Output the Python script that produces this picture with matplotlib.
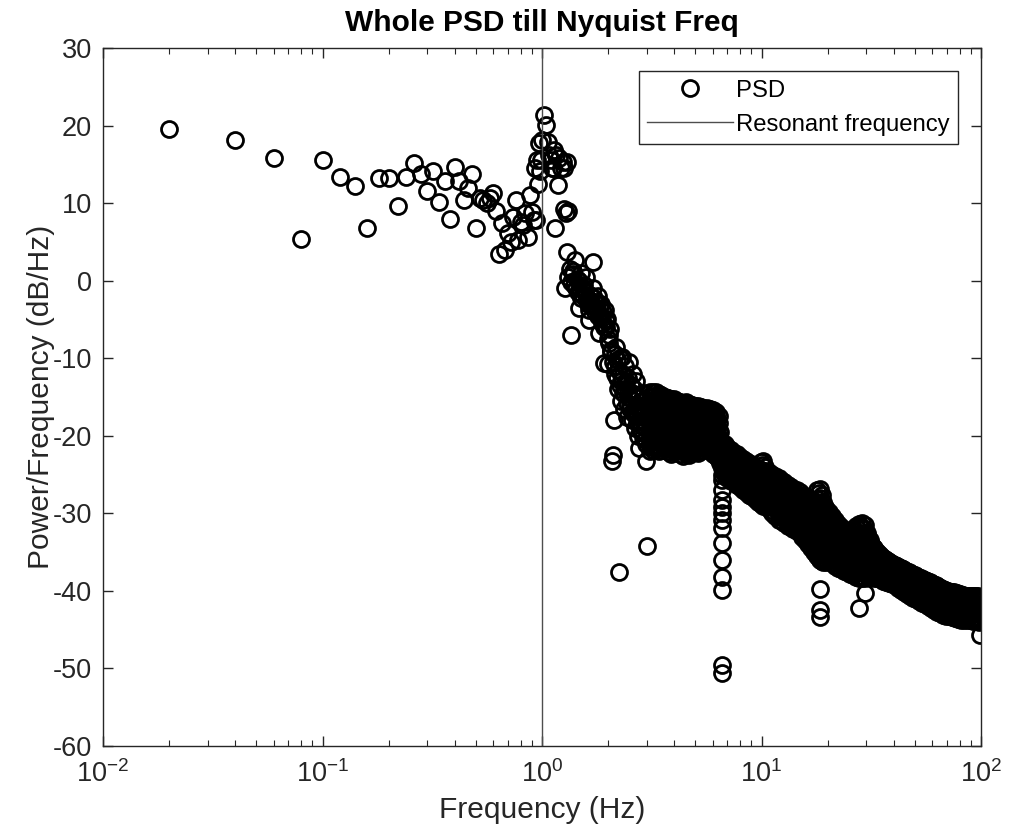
import matplotlib
matplotlib.use('Agg')
import matplotlib.pyplot as plt
import numpy as np

# ---------------- data ----------------
low_freq = [0.02, 0.04, 0.06, 0.08, 0.10, 0.12, 0.14, 0.16, 0.18, 0.20, 0.22, 0.24,
            0.26, 0.28, 0.30, 0.32, 0.34, 0.36, 0.38, 0.40, 0.42, 0.44, 0.46, 0.48,
            0.50, 0.52, 0.54, 0.56, 0.58, 0.60, 0.62, 0.64, 0.66, 0.68, 0.70, 0.72,
            0.74, 0.76, 0.78, 0.80, 0.82, 0.84, 0.86, 0.88, 0.90, 0.92, 0.94, 0.96, 0.98]
low_psd = [19.5, 18.2, 15.8, 5.4, 15.5, 13.4, 12.2, 6.8, 13.2, 13.2, 9.6, 13.4,
           15.2, 13.8, 11.6, 14.2, 10.2, 12.8, 7.9, 14.7, 12.8, 10.4, 12.0, 13.8,
           6.8, 10.6, 10.4, 10.0, 10.6, 11.3, 9.0, 3.5, 7.4, 4.0, 6.1, 5.0,
           8.2, 10.4, 5.2, 7.6, 7.2, 8.7, 5.6, 11.0, 8.9, 7.8, 7.8, 12.5, 14.1]

peak_freq = [0.93, 0.95, 0.97, 0.99, 1.00, 1.02, 1.04, 1.06, 1.08, 1.10, 1.11, 1.12,
             1.14, 1.15, 1.16, 1.18, 1.20, 1.22, 1.24, 1.26, 1.26, 1.27, 1.28, 1.30]
peak_psd = [14.5, 15.6, 17.7, 15.6, 18.1, 21.4, 20.1, 17.9, 16.2, 15.6, 14.5, 14.5,
            16.8, 6.8, 16.2, 12.3, 15.8, 14.5, 15.3, 9.3, 14.5, -1.0, 8.7, 15.3]

mid_freq = [1.30, 1.32, 1.34, 1.36, 1.38, 1.40, 1.42, 1.44, 1.46, 1.48, 1.50, 1.52,
            1.54, 1.56, 1.58, 1.60, 1.62, 1.64, 1.66, 1.68, 1.70, 1.72, 1.74, 1.76,
            1.78, 1.80, 1.82, 1.84, 1.86, 1.88, 1.90, 1.92, 1.94, 1.96, 1.98, 2.00,
            2.02, 2.04, 2.06, 2.08, 2.10, 2.12, 2.14, 2.16, 2.18, 2.20, 2.22, 2.24,
            2.26, 2.28, 2.30, 2.32, 2.34, 2.36, 2.38, 2.40, 2.42, 2.44, 2.46, 2.48,
            2.50, 2.52, 2.54, 2.56, 2.58, 2.60, 2.62, 2.64, 2.66, 2.68, 2.70, 2.72,
            2.74, 2.76, 2.78, 2.80, 2.82, 2.84, 2.86, 2.88, 2.90, 2.92, 2.94, 2.96,
            2.98, 3.00]
mid_psd = [3.7, 9.0, 1.5, -7.0, 0.8, -0.5, 2.7, 0.2, -1.5, -3.5, 1.0, -0.8,
           -2.0, -1.2, 0.5, -2.5, -3.0, -5.1, -1.8, -3.2, 2.4, -2.2, -4.0, -2.8,
           -3.6, -2.0, -6.8, -4.5, -3.0, -5.5, -4.0, -10.6, -3.8, -6.0, -5.0, -10.7,
           -7.0, -6.2, -9.0, -23.3, -22.5, -18.0, -9.5, -11.0, -8.5, -12.5, -14.0, -37.5,
           -10.0, -13.0, -15.5, -9.8, -12.0, -16.5, -11.0, -14.0, -13.0, -17.6, -12.5, -15.0,
           -10.5, -16.0, -13.5, -18.0, -14.5, -12.0, -16.8, -19.0, -15.0, -13.0, -17.5, -14.8,
           -20.0, -21.6, -16.0, -18.5, -15.5, -17.0, -19.5, -16.5, -18.0, -14.5, -20.5, -17.2,
           -23.3, -34.2]

mid2_freq = [1.31, 1.35, 1.39, 1.43, 1.47, 1.51, 1.55, 1.59, 1.63, 1.67, 1.71, 1.75,
             1.79, 1.83, 1.87, 1.91, 1.95, 1.99, 2.03, 2.07, 2.11, 2.15, 2.19, 2.23,
             2.27, 2.31, 2.35, 2.39, 2.43, 2.47, 2.51, 2.55, 2.59, 2.63, 2.67, 2.71,
             2.75, 2.79, 2.83, 2.87, 2.91, 2.95, 2.99]
mid2_psd = [0.5, -0.2, 1.2, -1.0, 0.0, -2.2, -0.5, -1.8, -3.8, -2.6, -1.0, -3.4,
            -4.6, -3.2, -4.8, -6.0, -5.2, -7.5, -8.0, -9.2, -10.5, -12.0, -10.2, -11.5,
            -13.5, -12.8, -14.5, -13.2, -15.8, -14.2, -16.5, -15.2, -17.0, -14.0, -16.2, -18.2,
            -16.6, -19.2, -17.5, -20.2, -16.8, -19.0, -21.0]

# dense band above 3 Hz: frequency of each column and the levels read in it
band_freq = [3.10, 3.20, 3.30, 3.40, 3.50, 3.62, 3.74, 3.86, 3.98, 4.12, 4.24, 4.38,
             4.52, 4.66, 4.82, 4.96, 5.12, 5.28, 5.44, 5.62, 5.80, 6.00, 6.18, 6.38,
             6.58, 6.80, 7.00, 7.24, 7.46, 7.70, 7.94, 8.20, 8.46, 8.74, 9.00, 9.30,
             9.60, 9.90, 10.20, 10.54, 10.88, 11.22, 11.58, 11.96, 12.34, 12.72, 13.14, 13.56,
             13.98, 14.44, 14.90, 15.36, 15.86, 16.36, 16.88, 17.42, 17.98, 18.56, 19.14, 19.76,
             20.38, 21.04, 21.70, 22.40, 23.10, 23.84, 24.60, 25.38, 26.20, 27.04, 27.90, 28.78,
             29.70, 30.64, 31.62, 32.64, 33.68, 34.74, 35.86, 37.00, 38.18, 39.40, 40.66, 41.94,
             43.28, 44.66, 46.10, 47.56, 49.08, 50.64, 52.26, 53.94, 55.66, 57.42, 59.26, 61.16,
             63.10, 65.12, 67.20, 69.34, 71.56, 73.84, 76.20, 78.62, 81.14, 83.72, 86.40, 89.14,
             91.98, 94.90, 97.94]
band_psd = [
    [-14.4, -15.5, -16.6, -17.6, -18.7, -19.8, -20.9, -22.0],
    [-14.3, -15.0, -16.1, -17.1, -18.2, -19.3, -20.3, -21.3, -21.8],
    [-14.4, -15.6, -16.6, -17.7, -18.8, -19.8, -20.7, -21.5],
    [-14.6, -15.2, -16.2, -17.3, -18.3, -19.4, -20.4, -21.4, -22.0],
    [-14.8, -15.8, -16.8, -17.9, -18.9, -19.9, -20.9, -21.8],
    [-15.0, -15.5, -16.4, -17.4, -18.5, -19.5, -20.5, -21.6],
    [-15.1, -16.0, -17.0, -18.1, -19.1, -20.1, -21.1, -21.9],
    [-15.3, -15.7, -16.6, -17.6, -18.6, -19.7, -20.7, -21.6, -22.3],
    [-15.2, -16.2, -17.2, -18.2, -19.3, -20.3, -21.2, -22.0],
    [-15.5, -16.0, -16.8, -17.8, -18.8, -19.8, -20.8, -21.8],
    [-15.6, -16.4, -17.4, -18.4, -19.4, -20.5, -21.5, -22.4],
    [-15.8, -16.2, -17.0, -18.0, -19.0, -20.0, -21.0, -22.0, -22.6],
    [-15.7, -16.6, -17.6, -18.6, -19.6, -20.6, -21.5, -22.2],
    [-15.9, -16.3, -17.2, -18.2, -19.2, -20.2, -21.2, -22.0, -22.5],
    [-16.0, -16.8, -17.8, -18.8, -19.8, -20.8, -21.6, -22.0],
    [-16.1, -16.5, -17.4, -18.4, -19.4, -20.4, -21.3, -21.8],
    [-16.2, -17.0, -18.0, -19.0, -20.0, -21.0, -21.6, -22.2],
    [-16.3, -16.8, -17.6, -18.6, -19.6, -20.6, -21.4, -22.0],
    [-16.4, -17.2, -18.2, -19.2, -20.2, -21.0, -21.6],
    [-16.4, -17.0, -17.8, -18.8, -19.8, -20.7, -21.5],
    [-16.6, -17.4, -18.4, -19.4, -20.4, -21.2, -21.8],
    [-16.7, -17.2, -18.0, -19.0, -20.0, -21.0, -21.8, -22.3],
    [-16.9, -17.6, -18.6, -19.6, -20.6, -21.6, -22.6],
    [-17.5, -18.4, -19.4, -20.4, -21.4, -22.2, -23.0],
    [-21.2, -22.2, -23.2, -24.2, -25.0, -25.7, -27.0, -28.3, -29.2, -30.0, -30.9,
     -31.9, -33.8, -36.0, -38.2, -39.9, -49.5, -50.6],
    [-21.0, -22.0, -23.0, -24.0, -25.0],
    [-21.4, -22.4, -23.4, -24.5, -25.5],
    [-21.8, -22.6, -23.6, -24.7, -25.8],
    [-22.2, -23.1, -24.1, -25.1, -26.0],
    [-22.4, -23.3, -24.3, -25.3, -26.3],
    [-22.8, -23.7, -24.7, -25.7, -26.6],
    [-23.0, -23.9, -24.9, -26.0, -27.0],
    [-23.3, -24.3, -25.3, -26.3, -27.3],
    [-23.5, -24.5, -25.5, -26.6, -27.6],
    [-23.8, -24.8, -25.8, -26.8, -27.8],
    [-24.0, -25.0, -26.0, -27.1, -28.2],
    [-24.2, -25.3, -26.3, -27.4, -28.5],
    [-23.4, -24.4, -25.5, -26.6, -27.7, -28.8],
    [-23.3, -24.5, -25.6, -26.8, -27.9, -29.0],
    [-24.6, -25.6, -26.7, -27.9, -29.2],
    [-24.8, -25.8, -26.9, -28.2, -29.6],
    [-25.0, -26.1, -27.3, -28.6, -30.0],
    [-25.2, -26.3, -27.6, -29.0, -30.4],
    [-25.4, -26.5, -27.8, -29.3, -30.8],
    [-25.8, -26.9, -28.1, -29.5, -31.0],
    [-26.0, -27.1, -28.4, -29.8, -31.3],
    [-26.4, -27.5, -28.7, -30.1, -31.6],
    [-26.6, -27.7, -28.9, -30.3, -31.8],
    [-26.8, -27.9, -29.1, -30.5, -32.0],
    [-27.0, -28.1, -29.3, -30.8, -32.3],
    [-27.2, -28.3, -29.6, -31.0, -32.5],
    [-27.6, -28.7, -30.0, -31.5, -33.0],
    [-27.8, -28.9, -30.2, -31.6, -32.6, -33.5],
    [-28.0, -29.1, -30.4, -31.7, -32.9, -34.0],
    [-28.2, -29.3, -30.6, -31.9, -33.2, -34.5],
    [-28.4, -29.5, -30.8, -32.1, -33.6, -35.0],
    [-27.0, -28.2, -29.6, -31.0, -32.4, -34.0, -35.5],
    [-26.8, -28.0, -29.4, -30.8, -32.3, -33.8, -35.2, -36.0, -39.7, -42.5, -43.4],
    [-28.6, -30.0, -31.5, -33.0, -34.7, -36.3],
    [-29.4, -30.7, -32.0, -33.4, -34.9, -36.3],
    [-29.8, -31.0, -32.3, -33.6, -34.8, -36.0],
    [-30.3, -31.5, -32.7, -34.0, -35.2, -36.4],
    [-30.8, -32.0, -33.2, -34.4, -35.6, -36.8],
    [-31.4, -32.5, -33.7, -34.8, -36.0, -37.0],
    [-31.8, -32.9, -34.0, -35.1, -36.2, -37.2],
    [-32.2, -33.3, -34.3, -35.4, -36.4, -37.4],
    [-32.4, -33.5, -34.5, -35.6, -36.6, -37.6],
    [-32.6, -33.6, -34.6, -35.7, -36.8, -37.8],
    [-32.0, -33.2, -34.4, -35.6, -36.8, -38.0],
    [-31.6, -32.9, -34.2, -35.5, -36.8, -38.2],
    [-31.4, -32.7, -34.1, -35.5, -36.9, -38.3, -42.2],
    [-31.3, -32.6, -34.0, -35.4, -36.9, -38.3],
    [-31.5, -32.8, -34.2, -35.6, -37.0, -38.3, -40.3],
    [-33.0, -34.3, -35.6, -36.9, -38.2],
    [-34.0, -35.0, -36.1, -37.2, -38.2],
    [-34.5, -35.4, -36.4, -37.4, -38.3],
    [-35.0, -36.1, -37.2, -38.4],
    [-35.4, -36.4, -37.5, -38.5],
    [-35.8, -36.8, -37.8, -38.7],
    [-36.0, -37.0, -38.0, -38.9],
    [-36.3, -37.2, -38.1, -39.0],
    [-36.5, -37.4, -38.3, -39.1],
    [-36.7, -37.6, -38.5, -39.3],
    [-36.9, -37.8, -38.7, -39.6],
    [-37.1, -38.0, -39.0, -39.9],
    [-37.3, -38.3, -39.3, -40.2],
    [-37.5, -38.5, -39.5, -40.4],
    [-37.7, -38.7, -39.7, -40.6],
    [-37.9, -38.9, -39.9, -40.9],
    [-38.1, -39.1, -40.1, -41.1],
    [-38.3, -39.3, -40.3, -41.3],
    [-38.5, -39.5, -40.5, -41.5],
    [-38.6, -39.6, -40.7, -41.7],
    [-38.8, -39.8, -40.9, -41.9],
    [-39.0, -40.1, -41.1, -42.2],
    [-39.2, -40.3, -41.3, -42.4],
    [-39.4, -40.5, -41.6, -42.7],
    [-39.6, -40.7, -41.8, -42.9],
    [-39.8, -40.9, -42.0, -43.1],
    [-40.0, -41.1, -42.1, -43.2],
    [-40.1, -41.2, -42.2, -43.3],
    [-40.2, -41.3, -42.3, -43.4],
    [-40.3, -41.4, -42.4, -43.5],
    [-40.4, -41.5, -42.5, -43.6],
    [-40.5, -41.6, -42.6, -43.7],
    [-40.6, -41.6, -42.7, -43.7],
    [-40.6, -41.7, -42.7, -43.8],
    [-40.7, -41.7, -42.8, -43.8],
    [-40.7, -41.8, -42.8, -43.9],
    [-40.7, -41.8, -42.9, -43.9],
    [-40.8, -41.9, -42.9, -44.0],
]

# second set of band columns read between the ones above
band2_freq = [3.15, 3.25, 3.35, 3.45, 3.56, 3.68, 3.80, 3.92, 4.05, 4.18, 4.31, 4.45,
              4.59, 4.74, 4.89, 5.04, 5.20, 5.36, 5.53, 5.71, 5.90, 6.09, 6.28, 6.48,
              6.69, 6.90, 7.12, 7.35, 7.58, 7.82, 8.07, 8.33, 8.60, 8.87, 9.15, 9.44,
              9.75, 10.05, 10.37, 10.71, 11.05, 11.40, 11.77, 12.14, 12.53, 12.93, 13.35, 13.77,
              14.21, 14.67, 15.13, 15.61, 16.11, 16.62, 17.15, 17.70, 18.27, 18.85, 19.45, 20.07,
              20.71, 21.37, 22.05, 22.75, 23.47, 24.22, 24.99, 25.79, 26.61, 27.46, 28.33, 29.24,
              30.17, 31.13, 32.12, 33.15, 34.20, 35.29, 36.42, 37.58, 38.78, 40.02, 41.29, 42.61,
              43.97, 45.37, 46.82, 48.31, 49.85, 51.44, 53.09, 54.78, 56.53, 58.33, 60.20, 62.12,
              64.10, 66.15, 68.26, 70.44, 72.69, 75.01, 77.40, 79.87, 82.42, 85.05, 87.76, 90.55,
              93.44, 96.41]
band2_psd = [
    [-14.9, -16.0, -17.1, -18.2, -19.3, -20.4, -21.5],
    [-14.9, -15.9, -17.0, -18.0, -19.1, -20.2, -21.2],
    [-15.0, -16.0, -17.1, -18.1, -19.2, -20.2, -21.3],
    [-15.2, -16.2, -17.3, -18.4, -19.4, -20.5, -21.5],
    [-15.3, -16.3, -17.3, -18.3, -19.3, -20.4, -21.4],
    [-15.5, -16.5, -17.6, -18.6, -19.6, -20.6, -21.6],
    [-15.5, -16.3, -17.3, -18.3, -19.4, -20.4, -21.4, -22.1],
    [-15.6, -16.6, -17.6, -18.7, -19.7, -20.7, -21.7],
    [-15.7, -16.7, -17.7, -18.7, -19.7, -20.7, -21.6],
    [-15.9, -16.9, -17.9, -18.9, -19.9, -21.0, -22.0],
    [-16.0, -16.8, -17.8, -18.8, -19.8, -20.8, -21.8],
    [-16.1, -17.1, -18.1, -19.1, -20.1, -21.1, -22.0],
    [-16.2, -17.0, -18.0, -19.0, -20.0, -21.0, -21.9],
    [-16.3, -17.3, -18.3, -19.3, -20.3, -21.3, -22.2],
    [-16.4, -17.2, -18.2, -19.2, -20.2, -21.1, -21.9],
    [-16.5, -17.5, -18.5, -19.5, -20.5, -21.4],
    [-16.6, -17.4, -18.4, -19.4, -20.4, -21.3, -22.0],
    [-16.8, -17.8, -18.8, -19.8, -20.8, -21.6],
    [-16.8, -17.6, -18.6, -19.6, -20.6, -21.3],
    [-16.9, -17.9, -18.9, -19.9, -20.9, -21.7],
    [-17.0, -17.8, -18.8, -19.8, -20.8, -21.6, -22.0],
    [-17.2, -18.2, -19.2, -20.2, -21.2, -22.2],
    [-17.8, -18.9, -19.9, -20.9, -21.9, -22.8],
    [-19.5, -20.5, -21.6, -22.6, -23.5],
    [-21.5, -22.5, -23.5, -24.5],
    [-21.7, -22.7, -23.8, -24.8],
    [-21.9, -22.9, -24.0, -25.1],
    [-22.3, -23.3, -24.4, -25.4],
    [-22.6, -23.6, -24.6, -25.6],
    [-22.9, -23.9, -25.0, -26.0],
    [-23.2, -24.2, -25.3, -26.3],
    [-23.4, -24.5, -25.6, -26.7],
    [-23.7, -24.8, -25.9, -27.0],
    [-24.0, -25.0, -26.1, -27.2],
    [-24.3, -25.3, -26.4, -27.5],
    [-24.5, -25.6, -26.7, -27.8],
    [-24.6, -25.8, -27.0, -28.2],
    [-23.8, -25.0, -26.2, -27.3, -28.4],
    [-24.0, -25.1, -26.2, -27.3, -28.5],
    [-25.1, -26.2, -27.3, -28.5],
    [-25.3, -26.4, -27.6, -28.9],
    [-25.6, -26.7, -27.9, -29.3],
    [-25.8, -26.9, -28.2, -29.6],
    [-26.0, -27.2, -28.5, -29.9, -30.4],
    [-26.3, -27.5, -28.8, -30.2, -30.6],
    [-26.6, -27.8, -29.1, -30.5, -30.9],
    [-26.9, -28.0, -29.3, -30.8, -31.2],
    [-27.2, -28.3, -29.6, -31.0, -31.4],
    [-27.4, -28.5, -29.8, -31.2, -31.7],
    [-27.6, -28.8, -30.1, -31.5, -32.0],
    [-27.9, -29.1, -30.4, -31.8, -32.2],
    [-28.2, -29.4, -30.7, -32.1, -32.8],
    [-28.4, -29.6, -30.9, -32.2, -33.3],
    [-28.6, -29.8, -31.1, -32.4, -33.7],
    [-28.8, -30.0, -31.3, -32.7, -34.1],
    [-28.5, -29.8, -31.2, -32.6, -34.1, -35.2],
    [-27.4, -28.8, -30.2, -31.6, -33.1, -34.6, -35.8],
    [-27.6, -29.0, -30.5, -32.0, -33.6, -35.2, -36.2],
    [-29.2, -30.6, -32.0, -33.5, -35.0, -35.9],
    [-29.9, -31.1, -32.5, -34.0, -35.5],
    [-30.4, -31.6, -32.9, -34.2, -35.5],
    [-30.8, -32.0, -33.2, -34.5, -35.8],
    [-31.4, -32.6, -33.8, -35.0, -36.2],
    [-31.9, -33.0, -34.2, -35.4, -36.5],
    [-32.3, -33.4, -34.5, -35.6, -36.7],
    [-32.7, -33.8, -34.9, -35.9, -37.0],
    [-33.0, -34.0, -35.1, -36.1, -37.2],
    [-32.8, -33.9, -35.0, -36.2, -37.3],
    [-32.3, -33.5, -34.8, -36.1, -37.4],
    [-32.0, -33.3, -34.6, -36.0, -37.5],
    [-31.8, -33.1, -34.5, -35.9, -37.5],
    [-32.0, -33.2, -34.6, -36.0, -37.6],
    [-32.6, -33.8, -35.0, -36.3, -37.6],
    [-33.5, -34.6, -35.7, -36.8, -37.8],
    [-34.3, -35.2, -36.2, -37.2, -37.9],
    [-34.8, -35.8, -36.8, -37.9],
    [-35.2, -36.2, -37.2, -38.1],
    [-35.6, -36.6, -37.6, -38.3],
    [-35.9, -36.9, -37.9, -38.5],
    [-36.2, -37.1, -38.0, -38.6],
    [-36.4, -37.3, -38.2, -38.8],
    [-36.6, -37.5, -38.4, -39.0],
    [-36.8, -37.7, -38.6, -39.2],
    [-37.0, -37.9, -38.8, -39.5],
    [-37.2, -38.2, -39.1, -39.8],
    [-37.4, -38.4, -39.4, -40.0],
    [-37.6, -38.6, -39.6, -40.2],
    [-37.8, -38.8, -39.8, -40.5],
    [-38.0, -39.0, -40.0, -40.7],
    [-38.2, -39.2, -40.2, -40.9],
    [-38.4, -39.4, -40.4, -41.1],
    [-38.6, -39.6, -40.6, -41.3],
    [-38.7, -39.7, -40.8, -41.5],
    [-38.9, -40.0, -41.0, -41.7],
    [-39.1, -40.2, -41.2, -42.0],
    [-39.3, -40.4, -41.5, -42.2],
    [-39.5, -40.6, -41.7, -42.4],
    [-39.7, -40.8, -41.9, -42.6],
    [-39.9, -41.0, -42.0, -42.8],
    [-40.0, -41.1, -42.2, -42.9],
    [-40.1, -41.2, -42.3, -43.0],
    [-40.2, -41.3, -42.4, -43.1],
    [-40.3, -41.4, -42.5, -43.2],
    [-40.4, -41.5, -42.6, -43.3],
    [-40.5, -41.6, -42.6, -43.3],
    [-40.6, -41.6, -42.7, -43.4],
    [-40.6, -41.7, -42.7, -43.4],
    [-40.7, -41.7, -42.8, -43.5],
    [-40.7, -41.8, -42.8, -43.5],
    [-40.7, -41.8, -42.9, -43.6],
]

tail_freq = [98.5]
tail_psd = [-45.7]

resonant_freq = 1.0

# ---------------- assemble ----------------
def flatten(freqs, cols):
    xs = [f for f, col in zip(freqs, cols) for _ in col]
    ys = [v for col in cols for v in col]
    return xs, ys

b1x, b1y = flatten(band_freq, band_psd)
b2x, b2y = flatten(band2_freq, band2_psd)
freq = np.array(low_freq + peak_freq + mid_freq + mid2_freq + b1x + b2x + tail_freq)
psd = np.array(low_psd + peak_psd + mid_psd + mid2_psd + b1y + b2y + tail_psd)

# ---------------- style ----------------
plt.rcParams['font.family'] = ['Liberation Sans', 'DejaVu Sans']
plt.rcParams['mathtext.fontset'] = 'custom'
plt.rcParams['mathtext.rm'] = 'Liberation Sans'
plt.rcParams['mathtext.it'] = 'Liberation Sans:italic'
plt.rcParams['mathtext.bf'] = 'Liberation Sans:bold'
plt.rcParams['axes.unicode_minus'] = False

axcol = '0.15'
fig = plt.figure(figsize=(10.09, 8.38), dpi=100)
ax = fig.add_axes([103 / 1009, 1 - 746 / 838, (981 - 103) / 1009, (746 - 48) / 838])

ax.plot(freq, psd, linestyle='none', marker='o', mfc='none', mec='k',
        ms=11.5, mew=2.0, label='PSD')
ax.axvline(resonant_freq, color='0.3', lw=1.0, label='Resonant frequency')

ax.set_xscale('log')
ax.set_xlim(1e-2, 1e2)
ax.set_ylim(-60, 30)
ax.set_yticks(np.arange(-60, 31, 10))
ax.yaxis.set_minor_locator(matplotlib.ticker.NullLocator())

for s in ax.spines.values():
    s.set_color(axcol)
    s.set_linewidth(1.0)
ax.tick_params(which='both', direction='in', top=True, right=True,
               color=axcol, labelcolor=axcol, labelsize=19.5)
ax.tick_params(which='major', length=7, width=1.0)
ax.tick_params(which='minor', length=4, width=0.8)
ax.tick_params(axis='y', pad=8)
ax.tick_params(axis='x', pad=10)

ax.set_title('Whole PSD till Nyquist Freq', fontsize=21.5, fontweight='bold',
             color='k', pad=12)
ax.set_xlabel('Frequency (Hz)', fontsize=21.5, color=axcol, labelpad=6)
ax.set_ylabel('Power/Frequency (dB/Hz)', fontsize=21.5, color=axcol, labelpad=-2)

leg = ax.legend(loc='upper right', fontsize=17.2, fancybox=False, framealpha=1,
                edgecolor=axcol, handlelength=3.6, handletextpad=0.1,
                borderaxespad=0.98, borderpad=0.35, labelspacing=0.5, numpoints=1)
leg.get_frame().set_linewidth(1.0)

fig.savefig('out.png', dpi=100, facecolor='white')
